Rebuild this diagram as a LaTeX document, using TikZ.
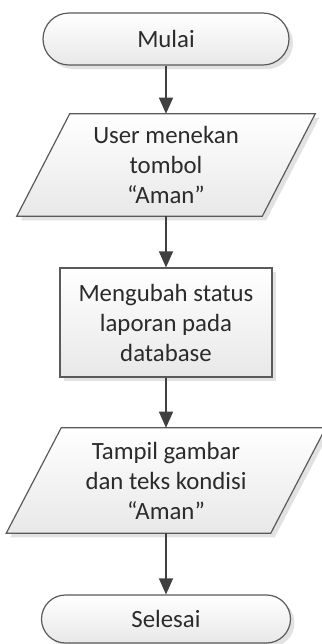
\documentclass[tikz,border=0pt]{standalone}
\usepackage{fontspec}
\setmainfont{Carlito}
\usetikzlibrary{arrows.meta,shapes.misc,shadows,backgrounds}
\definecolor{edge}{HTML}{5A5A5A}
\definecolor{arr}{HTML}{404040}
\definecolor{txt}{HTML}{2B2B2B}
\definecolor{shd}{HTML}{E2E2E2}
\definecolor{fillb}{HTML}{E8E8E8}
\newcommand\mypara[3]{([xshift=#2+#3,yshift=-#3]#1.north west) -- ([xshift=#3,yshift=-#3]#1.north east) -- ([xshift=-#2+#3,yshift=-#3]#1.south east) -- ([xshift=#3,yshift=-#3]#1.south west) -- cycle}
\begin{document}
\begin{tikzpicture}[x=0.75pt,y=-0.75pt,
  lbl/.style={align=center,text=txt,font=\fontsize{18.6}{22.5}\selectfont,inner sep=0pt},
  frame/.style={draw=edge,line width=0.9pt,top color=white,bottom color=fillb},
  shadowed/.style={drop shadow={shadow xshift=3pt,shadow yshift=-3pt,fill=shd,opacity=1}},
  flow/.style={draw=arr,line width=1pt,-{Triangle[length=12pt,width=10.5pt]}}]
\useasboundingbox (0,0) rectangle (322,644);

\node[lbl,frame,shadowed,rounded rectangle,minimum width=184.5pt,minimum height=39pt] (mulai) at (166,39) {Mulai};
\node[lbl,minimum width=223.5pt,minimum height=76.5pt] (p1) at (166,165) {User menekan\\tombol\\“Aman”};
\node[lbl,frame,shadowed,rectangle,minimum width=159pt,minimum height=81.75pt] (ubah) at (166,322.5) {Mengubah status\\laporan pada\\database};
\node[lbl,minimum width=239.25pt,minimum height=78.75pt] (p2) at (166,480.5) {Tampil gambar\\dan teks kondisi\\“Aman”};
\node[lbl,frame,shadowed,rounded rectangle,minimum width=186.75pt,minimum height=36pt] (selesai) at (166,619) {Selesai};

\begin{scope}[on background layer]
\fill[shd] \mypara{p1}{39.75pt}{3pt};
\draw[frame] \mypara{p1}{39.75pt}{0pt};
\fill[shd] \mypara{p2}{41.25pt}{3pt};
\draw[frame] \mypara{p2}{41.25pt}{0pt};
\end{scope}

\draw[flow] (mulai.south) -- (p1.north);
\draw[flow] (p1.south) -- (ubah.north);
\draw[flow] (ubah.south) -- (p2.north);
\draw[flow] (p2.south) -- (selesai.north);
\end{tikzpicture}
\end{document}
